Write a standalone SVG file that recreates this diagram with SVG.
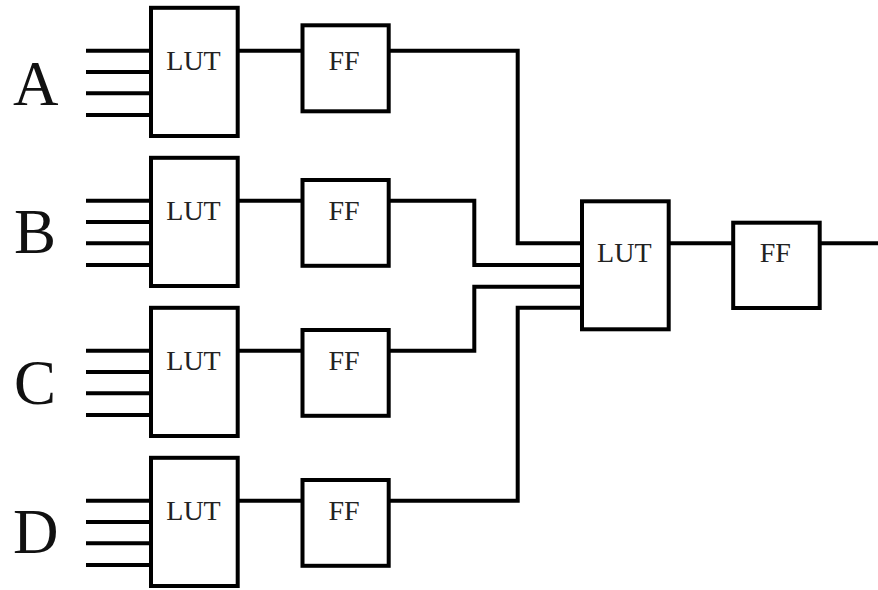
<svg xmlns="http://www.w3.org/2000/svg" width="878" height="590" viewBox="0 0 878 590">
  <style>
    .box { fill: #fff; stroke: #000; stroke-width: 4; }
    .wire { fill: none; stroke: #000; stroke-width: 4; stroke-linejoin: miter; stroke-linecap: butt; }
    .lbl { font-family: "Liberation Serif", "Times New Roman", serif; font-size: 28px; fill: #222; text-anchor: middle; }
    .big { font-family: "Liberation Serif", "Times New Roman", serif; font-size: 63px; fill: #111; text-anchor: start; }
  </style>
  <rect width="878" height="590" fill="#fff"/>

  <!-- wiring -->
  <g id="connectors">
    <!-- four-bit inputs of each first-stage LUT -->
    <path class="wire" d="M86 50.7H151M86 72H151M86 93.3H151M86 115H151"/>
    <path class="wire" d="M86 200.7H151M86 222H151M86 243.3H151M86 265H151"/>
    <path class="wire" d="M86 350.7H151M86 372H151M86 393.3H151M86 415H151"/>
    <path class="wire" d="M86 500.7H151M86 522H151M86 543.3H151M86 565H151"/>
    <!-- LUT to FF -->
    <path class="wire" d="M238 50.7H302"/>
    <path class="wire" d="M238 200.7H302"/>
    <path class="wire" d="M238 350.7H302"/>
    <path class="wire" d="M238 500.7H302"/>
    <!-- FF outputs routed into the second-stage LUT -->
    <path class="wire" d="M389 50.7H517.7V243.3H582"/>
    <path class="wire" d="M389 200.7H474.3V265H582"/>
    <path class="wire" d="M389 350.7H474.3V286.7H582"/>
    <path class="wire" d="M389 500.7H517.7V307.7H582"/>
    <!-- second stage -->
    <path class="wire" d="M669 243.3H733"/>
    <path class="wire" d="M820 243.3H878"/>
  </g>

  <!-- row labels -->
  <text class="big" x="13" y="105">A</text>
  <text class="big" x="14" y="253">B</text>
  <text class="big" x="14" y="404">C</text>
  <text class="big" x="13" y="553">D</text>

  <g id="lut-a"><rect class="box" x="151" y="7.8" width="86.7" height="128.2"/><text class="lbl" x="193.5" y="69.5">LUT</text></g>
  <g id="ff-a"><rect class="box" x="302.5" y="25.3" width="86.2" height="86"/><text class="lbl" x="344" y="69.5">FF</text></g>

  <g id="lut-b"><rect class="box" x="151" y="157.8" width="86.7" height="128.2"/><text class="lbl" x="193.5" y="219.5">LUT</text></g>
  <g id="ff-b"><rect class="box" x="302.5" y="180" width="86.2" height="85.8"/><text class="lbl" x="344" y="219.5">FF</text></g>

  <g id="lut-c"><rect class="box" x="151" y="307.8" width="86.7" height="128.2"/><text class="lbl" x="193.5" y="369.5">LUT</text></g>
  <g id="ff-c"><rect class="box" x="302.5" y="330" width="86.2" height="85.8"/><text class="lbl" x="344" y="369.5">FF</text></g>

  <g id="lut-d"><rect class="box" x="151" y="457.8" width="86.7" height="128.2"/><text class="lbl" x="193.5" y="519.5">LUT</text></g>
  <g id="ff-d"><rect class="box" x="302.5" y="480" width="86.2" height="85.8"/><text class="lbl" x="344" y="519.5">FF</text></g>

  <g id="lut-out"><rect class="box" x="582" y="201.3" width="86.7" height="128"/><text class="lbl" x="624.3" y="262">LUT</text></g>
  <g id="ff-out"><rect class="box" x="733.2" y="222.7" width="86.5" height="85.3"/><text class="lbl" x="775.3" y="262">FF</text></g>
</svg>
